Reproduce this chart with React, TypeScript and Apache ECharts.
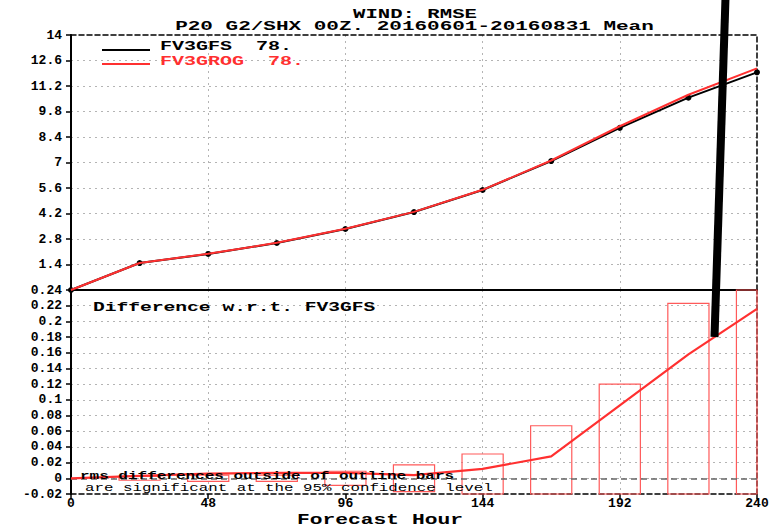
import React, { useEffect, useRef } from "react";
import * as echarts from "echarts";

const hours = [0, 24, 48, 72, 96, 120, 144, 168, 192, 216, 240];
const fv3gfsRmse = [0, 1.48, 1.98, 2.58, 3.35, 4.28, 5.49, 7.08, 8.9, 10.56, 11.95];
const fv3grogRmse = [0, 1.48, 1.99, 2.59, 3.36, 4.29, 5.5, 7.11, 8.99, 10.72, 12.17];
const rmseDiff = [0, 0.003, 0.006, 0.007, 0.007, 0.004, 0.012, 0.028, 0.093, 0.158, 0.216];
const ci95 = [0, 0.0025, 0.004, 0.004, 0.009, 0.017, 0.031, 0.067, 0.12, 0.223, 0.3];

const titleLine1 = "WIND: RMSE";
const titleLine2 = "P20 G2/SHX 00Z. 20160601-20160831 Mean";
const legendNames = ["FV3GFS  78.", "FV3GROG  78."];
const panelLabel = "Difference w.r.t. FV3GFS";
const noteLines = ["rms differences outside of outline bars", "are significant at the 95% confidence level"];
const xName = "Forecast Hour";

const FONT = "Liberation Mono";
const RED = "#ff3030";
const BAR_RED = "#ff5a5a";

export default function App() {
  const ref = useRef<HTMLDivElement>(null);
  useEffect(() => {
    document.body.style.margin = "0";
    const chart = echarts.init(ref.current!, null, { renderer: "svg" });
    const gridLine = { show: true, showMinLine: false, showMaxLine: false, lineStyle: { color: "#b4b4b4", type: [2, 4], width: 1 } };
    const labelStyle = { fontFamily: FONT, fontWeight: "bold", fontSize: 13, color: "#000" };
    const plainAxis = (gridIndex: number, position: string, dashed: boolean, width = 1.5) => ({
      type: "value",
      gridIndex,
      position,
      min: 0,
      max: 1,
      axisLine: { show: true, onZero: false, lineStyle: { color: "#000", width, type: dashed ? [5, 3] : "solid" } },
      axisTick: { show: false },
      axisLabel: { show: false },
      splitLine: { show: false },
    });
    const txt = (text: string, x: number, y: number, size: number, sx: number, opts: any = {}) => ({
      type: "text",
      x,
      y,
      scaleX: sx,
      z: 50,
      style: {
        text,
        fontFamily: FONT,
        fontWeight: opts.weight || "bold",
        fontSize: size,
        fill: opts.fill || "#000",
        align: opts.align || "left",
        verticalAlign: "middle",
      },
    });

    const option: any = {
      animation: false,
      backgroundColor: "#fff",
      grid: [
        { left: 71, right: 17, top: 35, height: 255 },
        { left: 71, right: 17, top: 290, height: 204 },
      ],
      xAxis: [
        {
          type: "value", gridIndex: 0, min: 0, max: 240, interval: 48, position: "bottom",
          axisLine: { onZero: false, lineStyle: { color: "#000", width: 2 } },
          axisTick: { show: false }, axisLabel: { show: false }, splitLine: gridLine,
        },
        { ...plainAxis(0, "top", true), min: 0, max: 240 },
        {
          type: "value", gridIndex: 1, min: 0, max: 240, interval: 48, position: "bottom",
          axisLine: { onZero: false, lineStyle: { color: "#000", width: 1.5, type: [5, 3] } },
          axisTick: { show: true, inside: false, length: 5, lineStyle: { color: "#000", width: 1.5 } },
          axisLabel: { ...labelStyle, margin: 3 },
          splitLine: gridLine,
        },
        { ...plainAxis(1, "top", true), min: 0, max: 240 },
      ],
      yAxis: [
        {
          type: "value", gridIndex: 0, min: 0, max: 14, interval: 1.4, position: "left",
          axisLine: { show: true, onZero: false, lineStyle: { color: "#000", width: 2 } },
          axisTick: { show: true, length: 5, lineStyle: { color: "#000", width: 1.5 } },
          axisLabel: { ...labelStyle, margin: 9, showMinLabel: false, formatter: (v: number) => String(+v.toFixed(1)) },
          splitLine: gridLine,
        },
        plainAxis(0, "right", true),
        {
          type: "value", gridIndex: 1, min: -0.02, max: 0.24, interval: 0.02, position: "left",
          axisLine: { show: true, onZero: false, lineStyle: { color: "#000", width: 2 } },
          axisTick: { show: true, length: 5, lineStyle: { color: "#000", width: 1.5 } },
          axisLabel: { ...labelStyle, margin: 9, formatter: (v: number) => String(+v.toFixed(2)) },
          splitLine: gridLine,
        },
        plainAxis(1, "right", true),
      ],
      series: [
        {
          type: "line", name: "FV3GFS", xAxisIndex: 0, yAxisIndex: 0,
          data: hours.map((h, i) => [h, fv3gfsRmse[i]]),
          symbol: "circle", symbolSize: 6, showSymbol: true,
          itemStyle: { color: "#000" },
          lineStyle: { color: "#000", width: 2 }, z: 3,
        },
        {
          type: "line", name: "FV3GROG", xAxisIndex: 0, yAxisIndex: 0,
          data: hours.map((h, i) => [h, fv3grogRmse[i]]),
          showSymbol: false, symbol: "none",
          lineStyle: { color: RED, width: 2 }, z: 4,
        },
        {
          type: "custom", name: "CI", xAxisIndex: 2, yAxisIndex: 2,
          data: hours.map((h, i) => [h, ci95[i]]),
          encode: { x: 0, y: 1 },
          z: 3,
          renderItem: (params: any, api: any) => {
            const h = api.value(0);
            const c = api.value(1);
            if (!c) return null;
            const p1 = api.coord([h - 7.2, c]);
            const p2 = api.coord([h + 7.2, -c]);
            const cs = params.coordSys;
            const rect = echarts.graphic.clipRectByRect(
              { x: p1[0], y: p1[1], width: p2[0] - p1[0], height: p2[1] - p1[1] },
              { x: cs.x, y: cs.y, width: cs.width, height: cs.height }
            );
            if (!rect) return null;
            return { type: "rect", shape: rect, style: { fill: "none", stroke: BAR_RED, lineWidth: 1.2 } };
          },
        },
        {
          type: "line", name: "diff", xAxisIndex: 2, yAxisIndex: 2,
          data: hours.map((h, i) => [h, rmseDiff[i]]),
          showSymbol: false, symbol: "none",
          lineStyle: { color: RED, width: 2.2 }, z: 5,
          markLine: {
            silent: true, symbol: "none", label: { show: false },
            lineStyle: { color: "#666", type: [6, 4], width: 1.5 },
            data: [{ yAxis: 0 }],
          },
        },
      ],
      graphic: [
        txt(titleLine1, 415, 14.5, 12, 1.72, { align: "center" }),
        txt(titleLine2, 414.5, 27, 12, 1.75, { align: "center" }),
        { type: "line", shape: { x1: 102, y1: 50, x2: 150, y2: 50 }, style: { stroke: "#000", lineWidth: 2 }, z: 50 },
        txt(legendNames[0], 160, 47, 13, 1.54),
        { type: "line", shape: { x1: 102, y1: 64, x2: 150, y2: 64 }, style: { stroke: RED, lineWidth: 2 }, z: 50 },
        txt(legendNames[1], 160, 62, 13, 1.54, { fill: RED }),
        txt(panelLabel, 93, 307, 13, 1.51),
        txt(noteLines[0], 80, 476, 10, 1.6, { weight: "bold" }),
        txt(noteLines[1], 85, 488, 10, 1.58, { weight: "normal" }),
        txt(xName, 380, 520, 14, 1.52, { align: "center" }),
        { type: "line", shape: { x1: 725.5, y1: -2, x2: 714.5, y2: 337 }, style: { stroke: "#000", lineWidth: 8, lineCap: "butt" }, z: 100 },
      ],
    };
    chart.setOption(option);
    return () => chart.dispose();
  }, []);
  return <div ref={ref} style={{ width: 774, height: 529, position: "fixed", left: 0, top: 0 }} />;
}
